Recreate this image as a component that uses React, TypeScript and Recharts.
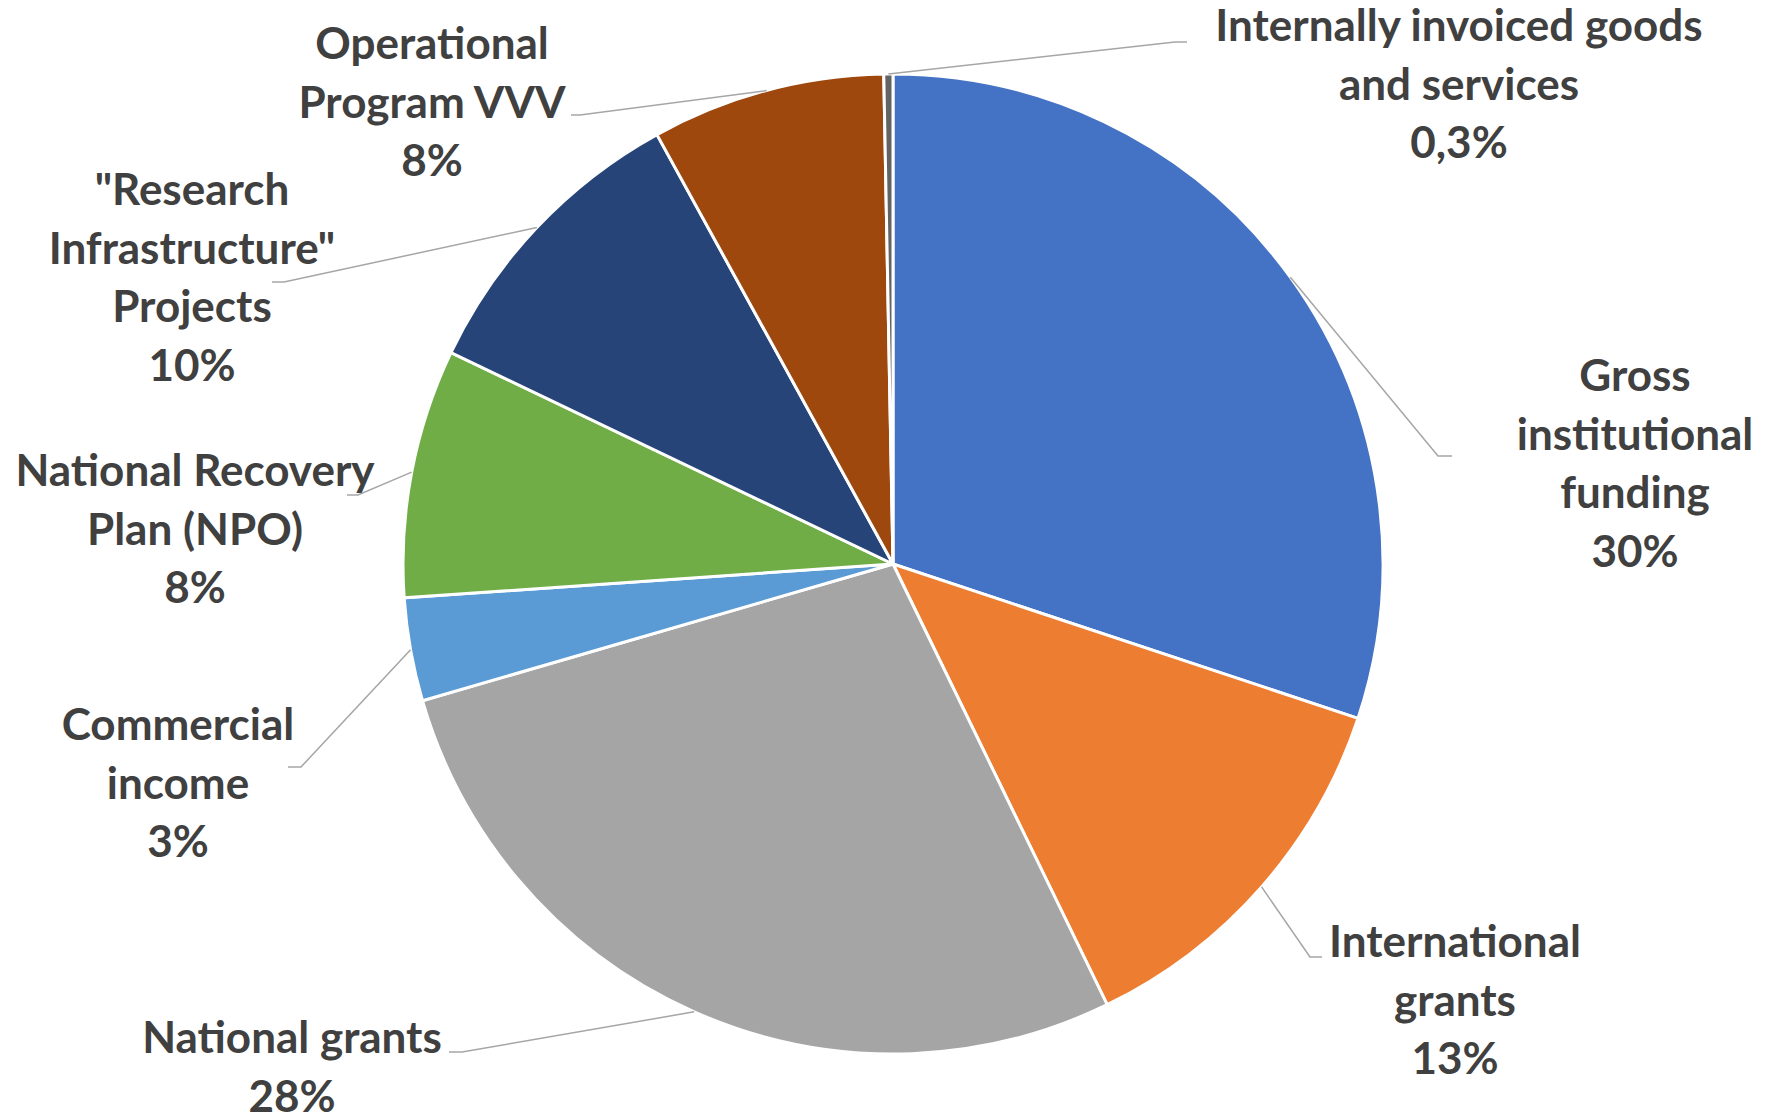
import React from "react";
import { PieChart, Pie, Cell } from "recharts";

const categories = [
  "Gross institutional funding",
  "International grants",
  "National grants",
  "Commercial income",
  "National Recovery Plan (NPO)",
  '"Research Infrastructure" Projects',
  "Operational Program VVV",
  "Internally invoiced goods and services",
];

// how each label wraps in the picture
const labelRows = [
  ["Gross", "institutional", "funding"],
  ["International", "grants"],
  ["National grants"],
  ["Commercial", "income"],
  ["National Recovery", "Plan (NPO)"],
  ['"Research', 'Infrastructure"', "Projects"],
  ["Operational", "Program VVV"],
  ["Internally invoiced goods", "and services"],
];

// shares in %
const shares = [30.1, 12.7, 27.7, 3.4, 8.2, 9.9, 7.7, 0.3];

const colors = [
  "#4472C4",
  "#ED7D31",
  "#A5A5A5",
  "#5B9BD5",
  "#70AD47",
  "#264478",
  "#9E480E",
  "#636363",
];

// label placement: text centre x, first baseline y, leader elbow (ex, ey), stub end sx
const labelPlaces = [
  { x: 1635, y: 391, ex: 1438, ey: 456, sx: 1452 },
  { x: 1455, y: 957, ex: 1310, ey: 957, sx: 1322 },
  { x: 292, y: 1053, ex: 462, ey: 1052, sx: 449 },
  { x: 178, y: 740, ex: 301, ey: 767, sx: 288 },
  { x: 195, y: 486, ex: 358, ey: 495, sx: 347 },
  { x: 192, y: 205, ex: 284, ey: 282, sx: 272 },
  { x: 432, y: 59, ex: 580, ey: 115, sx: 571 },
  { x: 1459, y: 41, ex: 1175, ey: 42, sx: 1187 },
];

const LINE_GAP = 58.6;
const RADIAN = Math.PI / 180;

const data = categories.map((name, i) => ({ name, value: shares[i] }));

const renderLabel = (props: any) => {
  const { cx, cy, midAngle, outerRadius, index, percent } = props;
  const p = labelPlaces[index];
  const x0 = cx + outerRadius * Math.cos(-midAngle * RADIAN);
  const y0 = cy + outerRadius * Math.sin(-midAngle * RADIAN);
  const pct = percent * 100;
  const pctText =
    pct < 1 ? pct.toFixed(1).replace(".", ",") + "%" : Math.round(pct) + "%";
  const rows = [...labelRows[index], pctText];
  return (
    <g key={`lbl-${index}`}>
      <polyline
        points={`${x0},${y0} ${p.ex},${p.ey} ${p.sx},${p.ey}`}
        fill="none"
        stroke="#A6A6A6"
        strokeWidth={1.5}
      />
      <text
        x={p.x}
        y={p.y}
        textAnchor="middle"
        fill="#404040"
        fontFamily="Lato, 'Open Sans', sans-serif"
        fontWeight="bold"
        fontSize={44}
      >
        {rows.map((r, i) => (
          <tspan key={i} x={p.x} dy={i === 0 ? 0 : LINE_GAP}>
            {r}
          </tspan>
        ))}
      </text>
    </g>
  );
};

const App: React.FC = () => {
  return (
    <div style={{ position: "absolute", left: 0, top: 0, background: "#fff" }}>
      <PieChart
        width={1768}
        height={1115}
        margin={{ top: 0, right: 0, bottom: 0, left: 0 }}
      >
        <Pie
          data={data}
          dataKey="value"
          nameKey="name"
          cx={893}
          cy={564}
          outerRadius={490}
          startAngle={90}
          endAngle={-270}
          stroke="#FFFFFF"
          strokeWidth={3}
          label={renderLabel}
          labelLine={false}
          isAnimationActive={false}
        >
          {data.map((d, i) => (
            <Cell key={d.name} fill={colors[i]} />
          ))}
        </Pie>
      </PieChart>
    </div>
  );
};

export default App;
